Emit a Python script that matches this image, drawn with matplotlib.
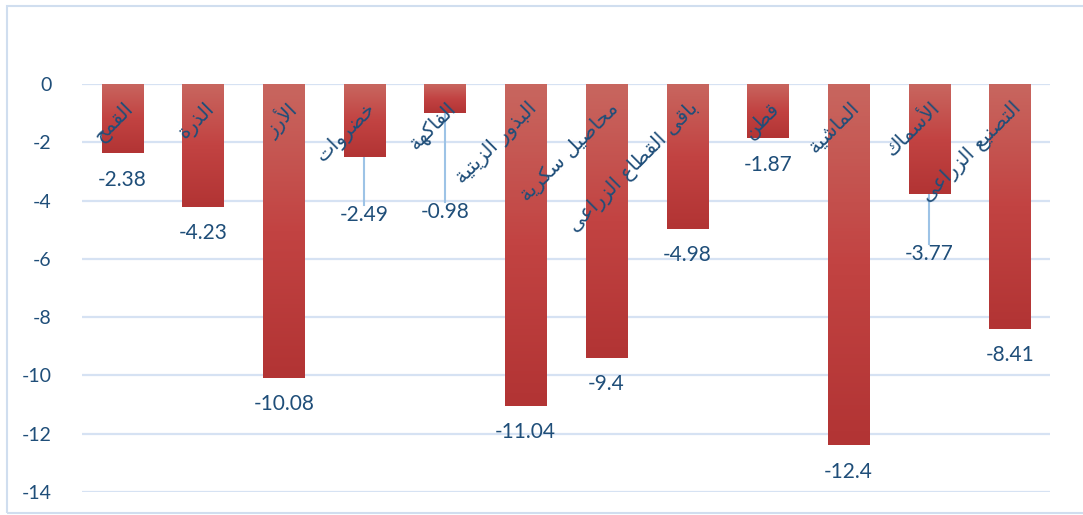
import matplotlib
matplotlib.use('Agg')
import matplotlib.pyplot as plt
import numpy as np
from matplotlib.colors import LinearSegmentedColormap

categories = ['القمح', 'الذرة', 'الأرز', 'خضروات', 'الفاكهة', 'البذور الزيتية',
              'محاصيل سكرية', 'باقى القطاع الزراعى', 'قطن', 'الماشية', 'الأسماك',
              'التصنيع الزراعى']
values = [-2.38, -4.23, -10.08, -2.49, -0.98, -11.04, -9.4, -4.98, -1.87, -12.4, -3.77, -8.41]
value_labels = ['-2.38', '-4.23', '-10.08', '-2.49', '-0.98', '-11.04', '-9.4', '-4.98',
                '-1.87', '-12.4', '-3.77', '-8.41']
yticks = [0, -2, -4, -6, -8, -10, -12, -14]

# labels that excel moved down with a leader line
moved = {3: -4.5, 4: -4.4, 10: -5.85}

# --- tiny arabic shaper (matplotlib has no shaping) ---
forms = {
    'ا': (0xFE8D, 0xFE8E), 'أ': (0xFE83, 0xFE84), 'إ': (0xFE87, 0xFE88), 'آ': (0xFE81, 0xFE82),
    'ب': (0xFE8F, 0xFE90, 0xFE91, 0xFE92), 'ة': (0xFE93, 0xFE94),
    'ت': (0xFE95, 0xFE96, 0xFE97, 0xFE98), 'ث': (0xFE99, 0xFE9A, 0xFE9B, 0xFE9C),
    'ج': (0xFE9D, 0xFE9E, 0xFE9F, 0xFEA0), 'ح': (0xFEA1, 0xFEA2, 0xFEA3, 0xFEA4),
    'خ': (0xFEA5, 0xFEA6, 0xFEA7, 0xFEA8), 'د': (0xFEA9, 0xFEAA), 'ذ': (0xFEAB, 0xFEAC),
    'ر': (0xFEAD, 0xFEAE), 'ز': (0xFEAF, 0xFEB0),
    'س': (0xFEB1, 0xFEB2, 0xFEB3, 0xFEB4), 'ش': (0xFEB5, 0xFEB6, 0xFEB7, 0xFEB8),
    'ص': (0xFEB9, 0xFEBA, 0xFEBB, 0xFEBC), 'ض': (0xFEBD, 0xFEBE, 0xFEBF, 0xFEC0),
    'ط': (0xFEC1, 0xFEC2, 0xFEC3, 0xFEC4), 'ظ': (0xFEC5, 0xFEC6, 0xFEC7, 0xFEC8),
    'ع': (0xFEC9, 0xFECA, 0xFECB, 0xFECC), 'غ': (0xFECD, 0xFECE, 0xFECF, 0xFED0),
    'ف': (0xFED1, 0xFED2, 0xFED3, 0xFED4), 'ق': (0xFED5, 0xFED6, 0xFED7, 0xFED8),
    'ك': (0xFED9, 0xFEDA, 0xFEDB, 0xFEDC), 'ل': (0xFEDD, 0xFEDE, 0xFEDF, 0xFEE0),
    'م': (0xFEE1, 0xFEE2, 0xFEE3, 0xFEE4), 'ن': (0xFEE5, 0xFEE6, 0xFEE7, 0xFEE8),
    'ه': (0xFEE9, 0xFEEA, 0xFEEB, 0xFEEC), 'و': (0xFEED, 0xFEEE), 'ى': (0xFEEF, 0xFEF0),
    'ي': (0xFEF1, 0xFEF2, 0xFEF3, 0xFEF4),
}
lamalef = {'ا': (0xFEFB, 0xFEFC), 'أ': (0xFEF7, 0xFEF8), 'إ': (0xFEF9, 0xFEFA), 'آ': (0xFEF5, 0xFEF6)}


def shape(s):
    out = []
    i = 0
    prev_joins = False
    while i < len(s):
        c = s[i]
        if c not in forms:
            out.append(c)
            prev_joins = False
            i += 1
            continue
        if c == 'ل' and i + 1 < len(s) and s[i + 1] in lamalef:
            f = lamalef[s[i + 1]]
            out.append(chr(f[1] if prev_joins else f[0]))
            prev_joins = False
            i += 2
            continue
        f = forms[c]
        nxt = s[i + 1] if i + 1 < len(s) else ''
        next_joins = len(f) == 4 and nxt in forms
        if prev_joins and next_joins:
            g = f[3]
        elif prev_joins:
            g = f[1]
        elif next_joins:
            g = f[2]
        else:
            g = f[0]
        out.append(chr(g))
        prev_joins = len(f) == 4
        i += 1
    return ''.join(out)[::-1]


fig = plt.figure(figsize=(10.83, 5.15), dpi=100)
ax = fig.add_axes([0.0757, 0.0447, 0.894, 0.7922])

x = np.arange(len(values))
w = 0.51
cmap = LinearSegmentedColormap.from_list('bar', ['#c8665f', '#c24342', '#b23434'])
grad = np.linspace(0, 1, 100).reshape(-1, 1)
for xi, v in zip(x, values):
    ax.imshow(grad, cmap=cmap, extent=[xi - w / 2, xi + w / 2, v, 0], aspect='auto',
              origin='upper', zorder=2)

ax.set_xlim(-0.5, len(values) - 0.5)
ax.set_ylim(-14, 0)
ax.set_yticks(yticks)
ax.set_yticklabels([str(t) for t in yticks], fontsize=14, color='#1f4e79', family='Lato')
ax.set_xticks([])
ax.tick_params(axis='y', length=0, pad=22)
for s in ax.spines.values():
    s.set_visible(False)
ax.grid(axis='y', color='#d6e2f3', linewidth=1.6, zorder=0)
ax.set_axisbelow(True)

txt_color = '#1f4e79'
for i, (v, lab) in enumerate(zip(values, value_labels)):
    if i in moved:
        ly = moved[i]
        ax.plot([i, i], [v, ly + 0.35], color='#9dc3e6', linewidth=1.5, zorder=1)
    else:
        ly = v - 0.9
    ax.text(i, ly, lab, ha='center', va='center', fontsize=15, color=txt_color,
            family='Lato', zorder=3)

for i, c in enumerate(categories):
    ax.text(i + 0.02, -0.5, shape(c), rotation=45, rotation_mode='anchor', ha='right',
            va='top', fontsize=14.5, color=txt_color, family='DejaVu Sans', zorder=4)

# chart border
fig.patches.append(plt.Rectangle((0.0065, 0.004), 1.2, 0.984, transform=fig.transFigure,
                                 fill=False, edgecolor='#d0deef', linewidth=1.5))

fig.savefig('out.png', dpi=100)
